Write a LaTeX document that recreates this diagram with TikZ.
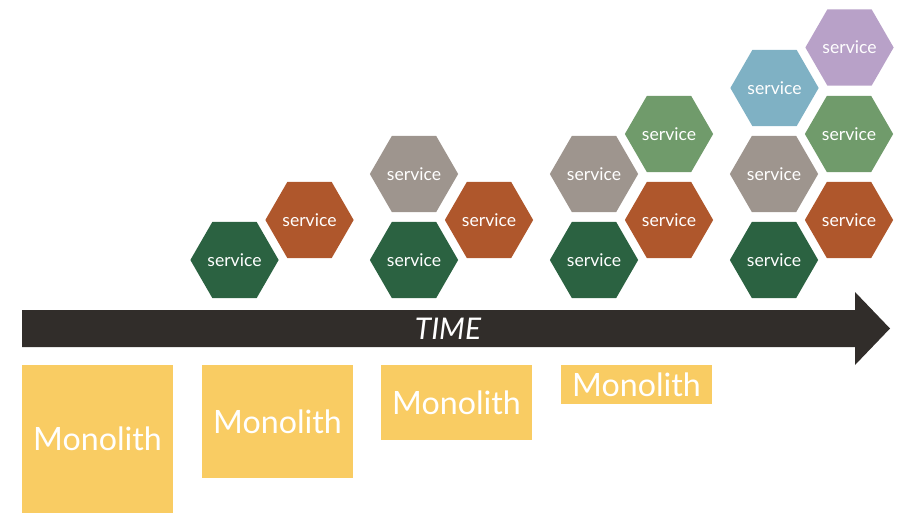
\documentclass[tikz,border=0pt]{standalone}
\usepackage{fontspec}
\setmainfont{Lato}
\usepackage{tikz}
\usetikzlibrary{shapes.geometric}

\definecolor{svcgreen}{HTML}{2B6241}
\definecolor{svcorange}{HTML}{AF572C}
\definecolor{svcgray}{HTML}{9E958E}
\definecolor{svclight}{HTML}{709B6B}
\definecolor{svcblue}{HTML}{7FB1C4}
\definecolor{svcpurple}{HTML}{B8A1C8}
\definecolor{monoyellow}{HTML}{F9CC63}
\definecolor{timedark}{HTML}{312D2A}

\begin{document}
\begin{tikzpicture}[
    x=0.02cm, y=-0.02cm,
    service/.style={
      regular polygon, regular polygon sides=6,
      minimum size=1.68cm, inner sep=0pt,
      fill=#1, text=white, font=\fontsize{10}{12}\selectfont
    },
    monolith/.style={
      rectangle, fill=monoyellow, text=white, inner sep=0pt,
      minimum width=3.02cm, minimum height=#1,
      font=\fontsize{18.3}{22}\selectfont
    },
  ]
  \useasboundingbox (0,0) rectangle (905,513);
  % time line
  \fill[timedark] (22,310) -- (855,310) -- (855,292) -- (890,328.5)
    -- (855,365) -- (855,347) -- (22,347) -- cycle;
  \node[text=white, font=\fontsize{17}{20}\selectfont\itshape] (time) at (448,329) {TIME};
  % monoliths
  \node[monolith=2.96cm] (mono1) at (97.5,439) {Monolith};
  \node[monolith=2.26cm] (mono2) at (277.5,421.5) {Monolith};
  \node[monolith=1.5cm] (mono3) at (456.5,402.5) {Monolith};
  \node[monolith=0.78cm] (mono4) at (636.5,384.5) {Monolith};
  % services
  \node[service=svcgreen] (green1) at (234.5,260) {service};
  \node[service=svcorange] (orange1) at (309.5,220) {service};

  \node[service=svcgreen] (green2) at (414,260) {service};
  \node[service=svcorange] (orange2) at (489,220) {service};
  \node[service=svcgray] (gray2) at (414,174) {service};

  \node[service=svcgreen] (green3) at (594,260) {service};
  \node[service=svcorange] (orange3) at (669,220) {service};
  \node[service=svcgray] (gray3) at (594,174) {service};
  \node[service=svclight] (light3) at (669,134) {service};

  \node[service=svcgreen] (green4) at (774,260) {service};
  \node[service=svcorange] (orange4) at (849,220) {service};
  \node[service=svcgray] (gray4) at (774,174) {service};
  \node[service=svclight] (light4) at (849,134) {service};
  \node[service=svcblue] (blue4) at (774.5,88) {service};
  \node[service=svcpurple] (purple4) at (849.5,47.5) {service};
\end{tikzpicture}
\end{document}
